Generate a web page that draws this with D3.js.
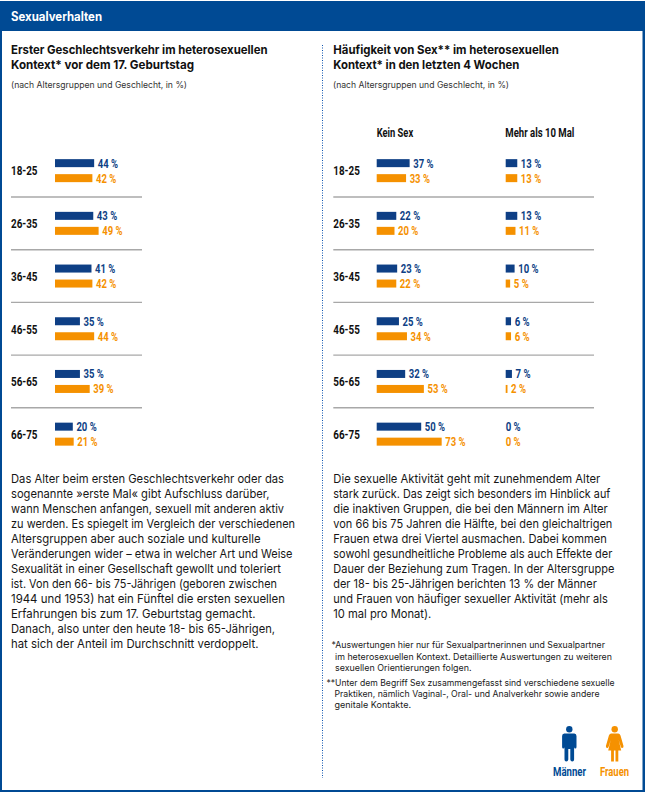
<!DOCTYPE html>
<html lang="de"><head><meta charset="utf-8">
<script src="https://cdn.jsdelivr.net/npm/d3@7"></script>
<style>html,body{margin:0;padding:0;background:#fff}svg{display:block}</style>
</head><body><svg id="c" width="645" height="793"></svg>
<script>
// ---- data ----
const ages = ["18-25","26-35","36-45","46-55","56-65","66-75"];
const firstMen = [44,43,41,35,35,20];
const firstWomen = [42,49,42,44,39,21];
// the reference draws the two male 35 % bars shorter than their printed value
const firstMenDrawn = [44,43,41,28,28,20];
const noneMen = [37,22,23,25,32,50];
const noneWomen = [33,20,22,34,53,73];
const oftenMen = [13,13,10,6,7,0];
const oftenWomen = [13,11,5,6,2,0];

const leftBody = ["Das Alter beim ersten Geschlechtsverkehr oder das","sogenannte »erste Mal« gibt Aufschluss darüber,","wann Menschen anfangen, sexuell mit anderen aktiv","zu werden. Es spiegelt im Vergleich der verschiedenen","Altersgruppen aber auch soziale und kulturelle","Veränderungen wider – etwa in welcher Art und Weise","Sexualität in einer Gesellschaft gewollt und toleriert","ist. Von den 66- bis 75-Jährigen (geboren zwischen","1944 und 1953) hat ein Fünftel die ersten sexuellen","Erfahrungen bis zum 17. Geburtstag gemacht.","Danach, also unter den heute 18- bis 65-Jährigen,","hat sich der Anteil im Durchschnitt verdoppelt."];
const leftWidths = [273,258.5,273,284,249.5,281.5,270,266,274,244.5,264,247.5];
const rightBody = ["Die sexuelle Aktivität geht mit zunehmendem Alter","stark zurück. Das zeigt sich besonders im Hinblick auf","die inaktiven Gruppen, die bei den Männern im Alter","von 66 bis 75 Jahren die Hälfte, bei den gleichaltrigen","Frauen etwa drei Viertel ausmachen. Dabei kommen","sowohl gesundheitliche Probleme als auch Effekte der","Dauer der Beziehung zum Tragen. In der Altersgruppe","der 18- bis 25-Jährigen berichten 13 % der Männer","und Frauen von häufiger sexueller Aktivität (mehr als","10 mal pro Monat)."];
const rightWidths = [267,277,274.5,279,273.5,279,281,263.5,274.5,98];
const notes = [
 {t:"*Auswertungen hier nur für Sexualpartnerinnen und Sexualpartner",x:331.5,y:648,w:273.5},
 {t:"im heterosexuellen Kontext. Detaillierte Auswertungen zu weiteren",x:335,y:660,w:277},
 {t:"sexuellen Orientierungen folgen.",x:335,y:671,w:136.5},
 {t:"**Unter dem Begriff Sex zusammengefasst sind verschiedene sexuelle",x:326.5,y:686,w:288},
 {t:"Praktiken, nämlich Vaginal-, Oral- und Analverkehr sowie andere",x:334.5,y:697,w:265},
 {t:"genitale Kontakte.",x:334.5,y:708,w:76.5}];

// ---- palette ----
const BLUE="#0e3f85", ORANGE="#f59100", HEAD="#004a94";
const BODY="Inter, 'Noto Sans', sans-serif", NARROW="'Liberation Sans Narrow', Roboto, sans-serif";

const svg=d3.select("#c");
function txt(s,x,y,o){
  const n=svg.append("text").attr("x",x).attr("y",y).text(s)
    .attr("font-family",o.font||BODY).attr("font-size",o.size).attr("font-weight",o.weight||400)
    .attr("fill",o.fill||"#111");
  if(o.w) n.attr("textLength",o.w).attr("lengthAdjust","spacingAndGlyphs");
  return n;
}
// frame
svg.append("rect").attr("x",0).attr("y",1).attr("width",645).attr("height",30).attr("fill",HEAD);
svg.append("rect").attr("x",0).attr("y",1).attr("width",2).attr("height",791).attr("fill",HEAD);
svg.append("rect").attr("x",642.5).attr("y",1).attr("width",2.5).attr("height",791).attr("fill",HEAD);
svg.append("rect").attr("x",0).attr("y",790).attr("width",645).attr("height",2).attr("fill",HEAD);
svg.append("line").attr("x1",322.5).attr("x2",322.5).attr("y1",45).attr("y2",778)
  .attr("stroke","#0f55b0").attr("stroke-width",1).attr("stroke-dasharray","1 1.5");
txt("Sexualverhalten",11,21,{size:12.5,weight:700,fill:"#fff",w:91});

// titles
const TS={size:12.3,weight:700};
txt("Erster Geschlechtsverkehr im heterosexuellen",11,54,{...TS,w:256.5});
txt("Kontext* vor dem 17. Geburtstag",11,69,{...TS,w:183});
txt("Häufigkeit von Sex** im heterosexuellen",333.3,54,{...TS,w:225.5});
txt("Kontext* in den letzten 4 Wochen",333.3,69,{...TS,w:186});
txt("(nach Altersgruppen und Geschlecht, in %)",11,88,{size:8.8,fill:"#333",w:176});
txt("(nach Altersgruppen und Geschlecht, in %)",333,88,{size:8.8,fill:"#333",w:176});
txt("Kein Sex",376.7,137,{font:NARROW,size:12.5,weight:700,w:36.5});
txt("Mehr als 10 Mal",505.3,137,{font:NARROW,size:12.5,weight:700,w:69});

// scales
const y=d3.scaleBand().domain(ages).range([144.3,460.5]);
const len=d3.scaleLinear().domain([0,100]).range([0,89]);
const BAR_H=8, OFF_M=-11.5, OFF_W=3.5;

function group(x0,men,women,menDrawn){
  const rows=ages.map((a,i)=>({a,m:men[i],w:women[i],md:(menDrawn||men)[i]}));
  const g=svg.append("g").attr("transform",`translate(${x0},0)`);
  g.selectAll("rect.m").data(rows).join("rect").attr("class","m")
    .attr("x",0).attr("y",d=>y(d.a)+y.bandwidth()/2+OFF_M).attr("height",BAR_H)
    .attr("width",d=>len(d.md)).attr("fill",BLUE);
  g.selectAll("rect.w").data(rows).join("rect").attr("class","w")
    .attr("x",0).attr("y",d=>y(d.a)+y.bandwidth()/2+OFF_W).attr("height",BAR_H)
    .attr("width",d=>len(d.w)).attr("fill",ORANGE);
  const lab=(cls,val,draw,off,col)=>g.selectAll("text."+cls).data(rows).join("text").attr("class",cls)
    .attr("x",d=>len(draw(d))+(draw(d)>0?3.6:0)).attr("y",d=>y(d.a)+y.bandwidth()/2+off+8.4)
    .attr("font-family",NARROW).attr("font-size",13.2).attr("font-weight",700).attr("fill",col)
    .attr("textLength",d=>String(val(d)).length>1?20.3:15).attr("lengthAdjust","spacingAndGlyphs")
    .text(d=>val(d)+" %");
  lab("lm",d=>d.m,d=>d.md,OFF_M,BLUE);
  lab("lw",d=>d.w,d=>d.w,OFF_W,ORANGE);
}
group(55,firstMen,firstWomen,firstMenDrawn);
group(376.7,noneMen,noneWomen);
group(505.7,oftenMen,oftenWomen);

[[11,142],[333.3,594]].forEach(([a,b])=>{
  ages.slice(0,-1).forEach(k=>{
    const yy=y(k)+y.bandwidth();
    svg.append("line").attr("x1",a).attr("x2",b).attr("y1",yy).attr("y2",yy)
      .attr("stroke","#a8a8a8").attr("stroke-width",1.4);
  });
  ages.forEach(k=>txt(k,a,y(k)+y.bandwidth()/2+4.8,{font:NARROW,size:13,weight:700,w:26.5}));
});

// body
leftBody.forEach((s,i)=>txt(s,11,483+i*15.02,{size:12,fill:"#161616",w:leftWidths[i]}));
rightBody.forEach((s,i)=>txt(s,333.3,483+i*15.02,{size:12,fill:"#161616",w:rightWidths[i]}));
notes.forEach(n=>txt(n.t,n.x,n.y,{size:9,fill:"#1a1a1a",w:n.w}));

// legend icons
const man=svg.append("g").attr("transform","translate(569.3,726)").attr("fill",HEAD);
man.append("circle").attr("cx",0).attr("cy",3.2).attr("r",3.2);
man.append("path").attr("d","M-5,7.5 H5 Q7.2,7.5 7.2,10 V21 Q7.2,22.5 6,22.5 Q4.8,22.5 4.8,21 V33.5 Q4.8,35.5 3,35.5 Q1.2,35.5 1,33.5 V23 H-1 V33.5 Q-1.2,35.5 -3,35.5 Q-4.8,35.5 -4.8,33.5 V21 Q-4.8,22.5 -6,22.5 Q-7.2,22.5 -7.2,21 V10 Q-7.2,7.5 -5,7.5 Z");
const wom=svg.append("g").attr("transform","translate(614.7,726)").attr("fill",ORANGE);
wom.append("circle").attr("cx",0).attr("cy",3.2).attr("r",3.2);
wom.append("path").attr("d","M-3.5,7.5 H3.5 Q5,7.5 5.8,9.5 L8.8,20 Q9,22 7.5,22 Q6.5,22 6,20.5 L4,14 L6.5,24.5 H3.6 V35.5 H0.8 V24.5 H-0.8 V35.5 H-3.6 V24.5 H-6.5 L-4,14 L-6,20.5 Q-6.5,22 -7.5,22 Q-9,22 -8.8,20 L-5.8,9.5 Q-5,7.5 -3.5,7.5 Z");
txt("Männer",553,776,{font:NARROW,size:12.5,weight:700,fill:HEAD,w:33});
txt("Frauen",600,776,{font:NARROW,size:12.5,weight:700,fill:ORANGE,w:29});
</script></body></html>
